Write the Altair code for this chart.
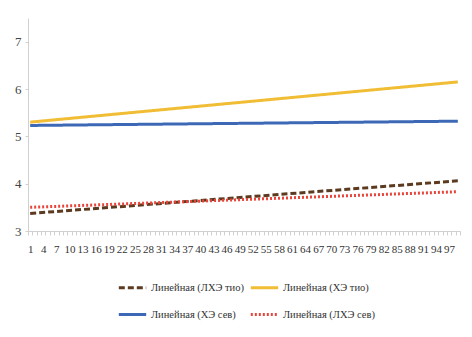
import altair as alt
import pandas as pd

series = ["Линейная (ЛХЭ тио)", "Линейная (ХЭ тио)", "Линейная (ХЭ сев)", "Линейная (ЛХЭ сев)"]
x_first = 1
x_last = 99
start_vals = [3.37, 5.30, 5.23, 3.50]
end_vals = [4.06, 6.15, 5.32, 3.83]
colors = ["#5b3a1f", "#f0bd35", "#3d68b5", "#e8443a"]
dashes = [[6, 3], [1, 0], [1, 0], [2, 2]]

rows = []
for s, a, b in zip(series, start_vals, end_vals):
    rows.append({"series": s, "x": x_first, "y": a})
    rows.append({"series": s, "x": x_last, "y": b})
df = pd.DataFrame(rows)

# legend fills column-major: put entries so rows read as in the reference
order = [0, 2, 1, 3]
dom = [series[i] for i in order]
col_rng = [colors[i] for i in order]
dash_rng = [dashes[i] for i in order]

half = 432 / 99 / 2
FONT = "'Liberation Serif', 'DejaVu Serif', serif"

chart = alt.Chart(df).mark_line(strokeWidth=3).encode(
    x=alt.X("x:Q", scale=alt.Scale(domain=[0.5, 99.5], nice=False, zero=False),
            axis=alt.Axis(values=[i + 0.5 for i in range(0, 100)], title=None, grid=False,
                          labelExpr="(datum.value + 0.5 - 1) % 3 == 0 && datum.value < 98 ? format(datum.value + 0.5, 'd') : ''",
                          labelOffset=half, labelOverlap=False, labelFlush=False,
                          labelFont=FONT, labelFontSize=11, labelColor="#333",
                          domainColor="#d0d0d0", tickColor="#d0d0d0", tickSize=4, labelPadding=8)),
    y=alt.Y("y:Q", scale=alt.Scale(domain=[3, 7.5], nice=False, zero=False),
            axis=alt.Axis(values=[3, 4, 5, 6, 7], title=None, grid=False,
                          labelFont=FONT, labelFontSize=13, labelColor="#444",
                          domainColor="#d0d0d0", tickColor="#d0d0d0", tickSize=3, labelPadding=4)),
    color=alt.Color("series:N", scale=alt.Scale(domain=dom, range=col_rng),
                    legend=alt.Legend(title=None, orient="none", legendX=89, legendY=254,
                                      columns=2, symbolType="stroke", symbolSize=750,
                                      symbolStrokeWidth=3, labelFont=FONT,
                                      labelFontSize=10.5, labelColor="#333", columnPadding=0,
                                      rowPadding=5, labelOffset=3)),
    strokeDash=alt.StrokeDash("series:N", scale=alt.Scale(domain=dom, range=dash_rng), legend=None),
).properties(
    width=432, height=213,
    autosize=alt.AutoSizeParams(type="none"),
    padding={"left": 20, "top": 10, "right": 4, "bottom": 98},
).configure_view(stroke=None)

chart.save("out.html", embed_options={"renderer": "svg", "actions": False})
